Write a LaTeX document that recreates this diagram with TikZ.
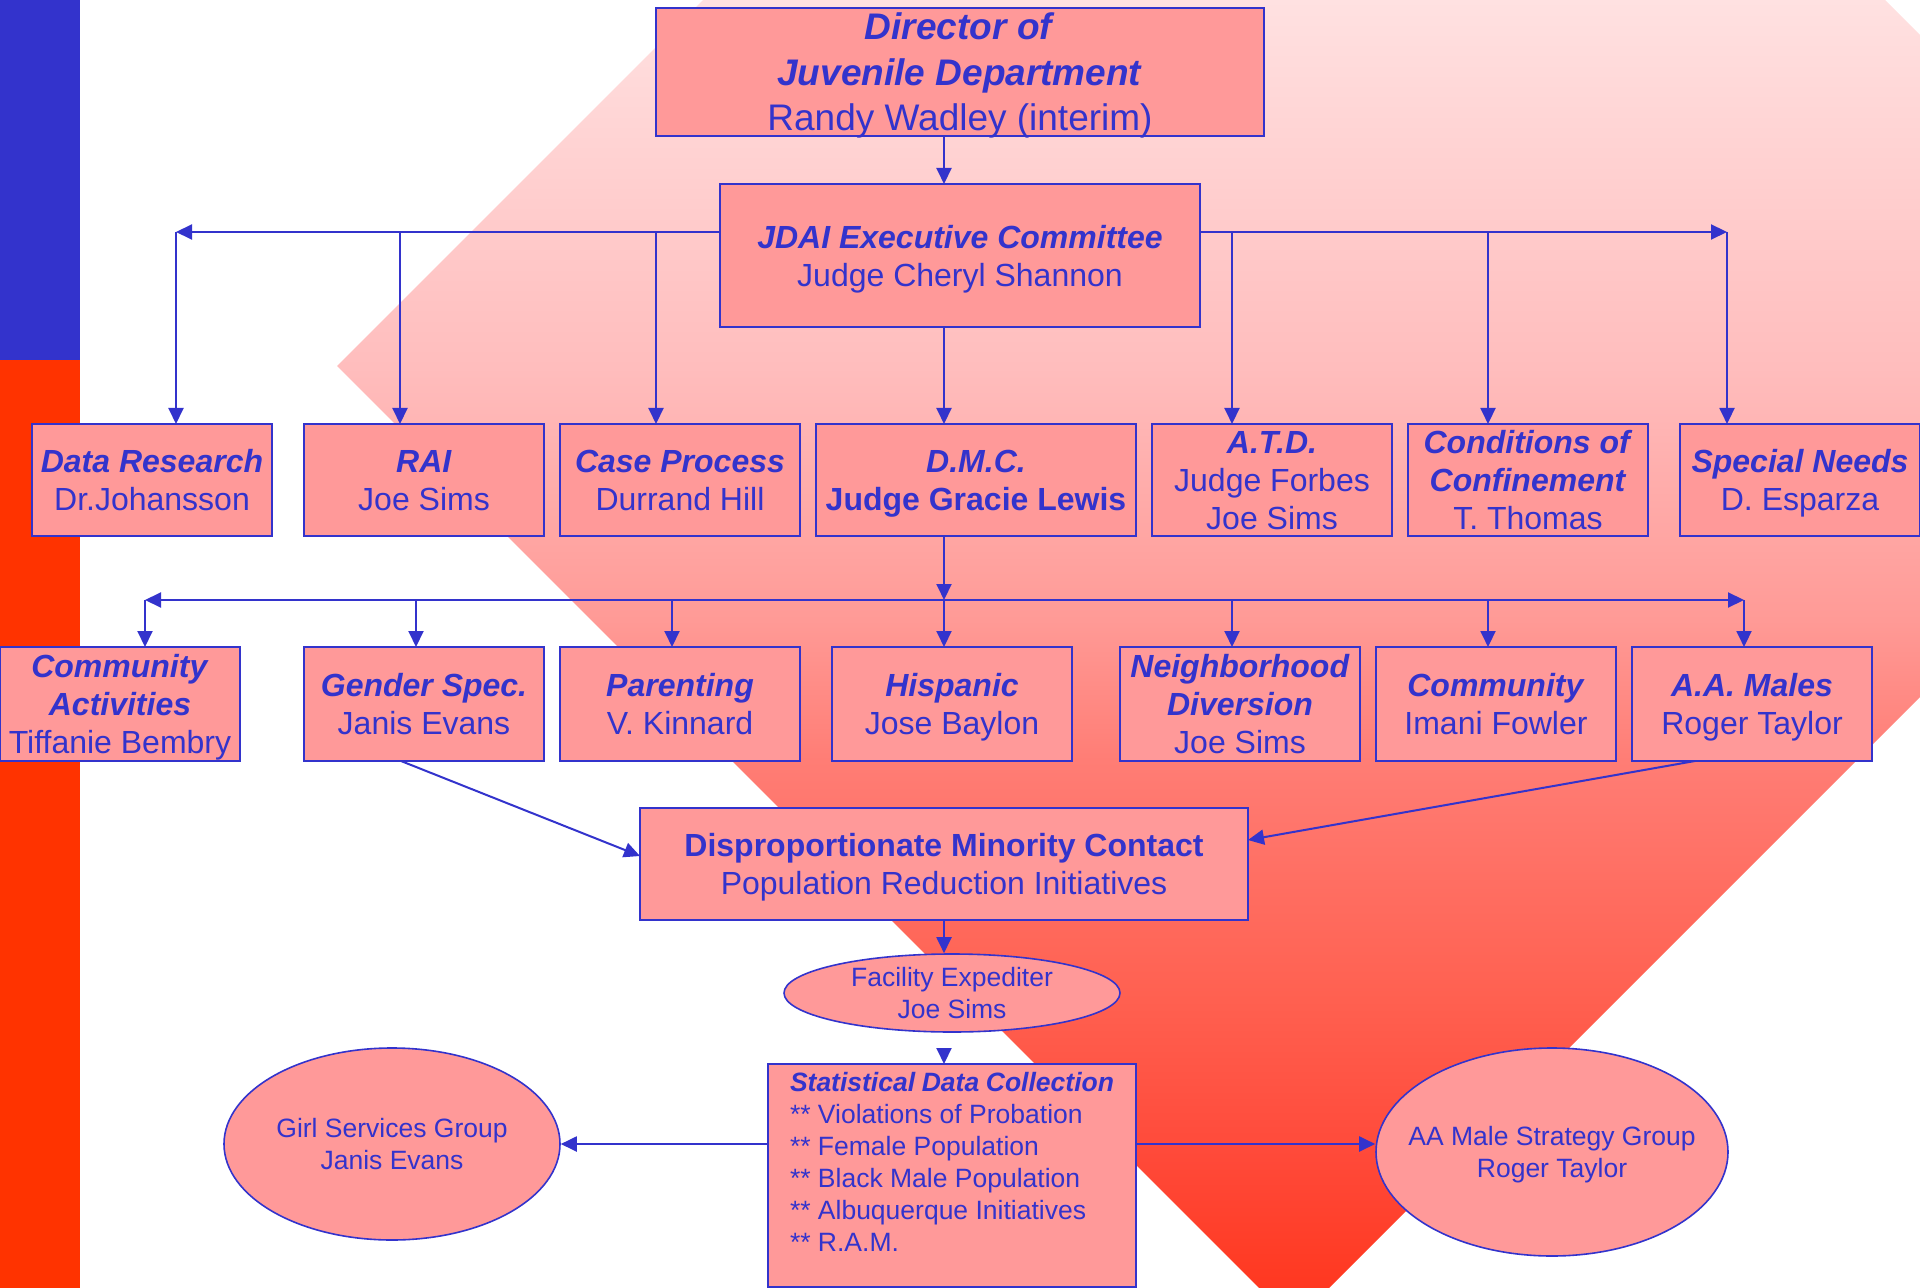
\documentclass[tikz,border=0pt]{standalone}
\usepackage{fontspec}
\setmainfont{Liberation Sans}
\usetikzlibrary{arrows.meta,shapes.geometric,positioning,calc}

\definecolor{orgblue}{HTML}{3333CC}
\definecolor{orgpink}{HTML}{FF9999}
\definecolor{orgred}{HTML}{FF3300}
\definecolor{shadeA}{RGB}{255,56,32}
\definecolor{shadeB}{RGB}{255,74,58}
\definecolor{shadeC}{RGB}{255,96,80}
\definecolor{shadeD}{RGB}{255,125,117}
\definecolor{shadeE}{RGB}{255,154,150}
\definecolor{shadeF}{RGB}{255,189,189}
\definecolor{shadeG}{RGB}{255,225,225}

\pgfdeclareverticalshading{backdrop}{100bp}{color(0bp)=(shadeA); color(25bp)=(shadeA);
  color(30.36bp)=(shadeB); color(36.18bp)=(shadeC); color(45.5bp)=(shadeD);
  color(50.93bp)=(shadeE); color(60.75bp)=(shadeF); color(75bp)=(shadeG); color(100bp)=(shadeG)}

\newcommand{\charttop}{\fontsize{18.5}{22.75}\selectfont}
\newcommand{\chartmain}{\fontsize{16}{19}\selectfont}
\newcommand{\chartsmall}{\fontsize{13.25}{16}\selectfont}
\newcommand{\bitext}[1]{\textbf{\textit{#1}}}

\tikzstyle{frame} = [
  rectangle, draw=orgblue, fill=orgpink, line width=1.2pt, text=orgblue,
  align=center, inner sep=0pt, outer sep=0pt, font=\chartmain
]
\tikzstyle{box} = [frame, text depth=0pt]
\tikzstyle{unit} = [box, minimum width=120pt, minimum height=56pt]
\tikzstyle{unitlow} = [box, minimum width=120pt, minimum height=57pt]
\tikzstyle{oval} = [
  ellipse, draw=orgblue, fill=orgpink, line width=0.8pt, text=orgblue,
  align=center, inner sep=0pt, text depth=0pt, font=\chartsmall
]
\tikzstyle{link} = [draw=orgblue, line width=1pt, -{Triangle[length=8pt,width=7.5pt]}]
\tikzstyle{twoway} = [link, {Triangle[length=8pt,width=7.5pt]}-{Triangle[length=8pt,width=7.5pt]}]

\begin{document}
\begin{tikzpicture}[x=0.5pt, y=-0.5pt]
    \useasboundingbox (0,0) rectangle (1920,1288);

    % backdrop
    \fill[orgblue] (0,0) rectangle (80,360);
    \fill[orgred] (0,360) rectangle (80,1288);
    \begin{scope}
      \clip (337,366) -- (1294,-591) -- (2251,366) -- (1294,1323) -- cycle;
      \shade[shading=backdrop] (0,0) rectangle (1920,1288);
    \end{scope}

    % head of the chart
    \node[box, minimum width=304pt, minimum height=64pt, font=\charttop] (dir) at (960,72)
      {\bitext{Director of}\\\bitext{Juvenile Department}\\Randy Wadley (interim)};
    \node[box, minimum width=240pt, minimum height=71.5pt] (jdai) at (960,255.5)
      {\bitext{JDAI Executive Committee}\\Judge Cheryl Shannon};

    % committees
    \node[unit] (data) at (152,480) {\bitext{Data Research}\\Dr.Johansson};
    \node[unit, right=16pt of data] (rai) {\bitext{RAI}\\Joe Sims};
    \node[unit, right=8pt of rai] (case) {\bitext{Case Process}\\Durrand Hill};
    \node[unit, minimum width=160pt, right=8pt of case] (dmc) {\bitext{D.M.C.}\\\textbf{Judge Gracie Lewis}};
    \node[unit, right=8pt of dmc] (atd) {\bitext{A.T.D.}\\Judge Forbes\\Joe Sims};
    \node[unit, right=8pt of atd] (cond) {\bitext{Conditions of}\\\bitext{Confinement}\\T. Thomas};
    \node[unit, right=16pt of cond] (special) {\bitext{Special Needs}\\D. Esparza};

    % D.M.C. groups
    \node[unitlow] (commact) at (120,704) {\bitext{Community}\\\bitext{Activities}\\Tiffanie Bembry};
    \node[unitlow, right=32pt of commact] (gender) {\bitext{Gender Spec.}\\Janis Evans};
    \node[unitlow, right=8pt of gender] (parent) {\bitext{Parenting}\\V. Kinnard};
    \node[unitlow, right=16pt of parent] (hispanic) {\bitext{Hispanic}\\Jose Baylon};
    \node[unitlow, right=24pt of hispanic] (neigh) {\bitext{Neighborhood}\\\bitext{Diversion}\\Joe Sims};
    \node[unitlow, right=8pt of neigh] (commun) {\bitext{Community}\\Imani Fowler};
    \node[unitlow, right=8pt of commun] (aamales) {\bitext{A.A. Males}\\Roger Taylor};

    % lower part
    \node[box, minimum width=304pt, minimum height=56pt] (dmpc) at (944,864)
      {\textbf{Disproportionate Minority Contact}\\Population Reduction Initiatives};
    \node[oval, minimum width=168pt, minimum height=39pt] (expediter) at (952,993) {Facility Expediter\\Joe Sims};
    \node[frame, inner xsep=11pt, inner ysep=4pt, font=\chartsmall] (stats) at (952,1175.5)
      {\parbox[c][103.5pt][t]{162pt}{\raggedright\bitext{Statistical Data Collection}\\{}
       ** Violations of Probation\\{}** Female Population\\{}** Black Male Population\\{}
       ** Albuquerque Initiatives\\{}** R.A.M.}};
    \node[oval, minimum width=168pt, minimum height=96pt] (girls) at (392,1144) {Girl Services Group\\Janis Evans};
    \node[oval, inner xsep=-10pt, minimum width=176pt, minimum height=104pt] (aamale) at (1552,1152)
      {AA Male Strategy Group\\Roger Taylor};

    % bus lines
    \coordinate (spine) at (944,0);
    \coordinate (busleft) at (176,232);
    \coordinate (busright) at (1727,232);
    \coordinate (tapRAI) at (400,232);
    \coordinate (tapCase) at (656,232);
    \coordinate (tapATD) at (1232,232);
    \coordinate (tapCond) at (1488,232);
    \coordinate (lowleft) at (145,600);
    \coordinate (lowright) at (1744,600);
    \coordinate (tapGender) at (416,600);
    \coordinate (tapParent) at (672,600);
    \coordinate (tapNeigh) at (1232,600);
    \coordinate (tapCommun) at (1488,600);

    \draw[link] (dir.south -| spine) -- (jdai.north -| spine);
    \draw[link] (jdai.west |- busleft) -- (busleft);
    \draw[link] (jdai.east |- busright) -- (busright);
    \draw[link] (busleft) -- (busleft |- data.north);
    \draw[link] (tapRAI) -- (tapRAI |- rai.north);
    \draw[link] (tapCase) -- (tapCase |- case.north);
    \draw[link] (jdai.south -| spine) -- (dmc.north -| spine);
    \draw[link] (tapATD) -- (tapATD |- atd.north);
    \draw[link] (tapCond) -- (tapCond |- cond.north);
    \draw[link] (busright) -- (busright |- special.north);

    \draw[link] (dmc.south -| spine) -- (spine |- lowleft);
    \draw[twoway] (lowleft) -- (lowright);
    \draw[link] (lowleft) -- (lowleft |- commact.north);
    \draw[link] (tapGender) -- (tapGender |- gender.north);
    \draw[link] (tapParent) -- (tapParent |- parent.north);
    \draw[link] (spine |- lowleft) -- (hispanic.north -| spine);
    \draw[link] (tapNeigh) -- (tapNeigh |- neigh.north);
    \draw[link] (tapCommun) -- (tapCommun |- commun.north);
    \draw[link] (lowright) -- (lowright |- aamales.north);

    \draw[link] ($(gender.south)+(-23,0)$) -- ($(dmpc.west)+(0,-8)$);
    \draw[link] ($(aamales.south)+(-57,0)$) -- ($(dmpc.east)+(0,-24)$);
    \draw[link] (dmpc.south -| spine) -- (expediter.north -| spine);
    \draw[link, shorten <=8pt] (expediter.south -| spine) -- (stats.north -| spine);
    \draw[link] (stats.west |- girls.east) -- (girls.east);
    \draw[link] (stats.east |- girls.east) -- (aamale.west |- girls.east);
\end{tikzpicture}
\end{document}
